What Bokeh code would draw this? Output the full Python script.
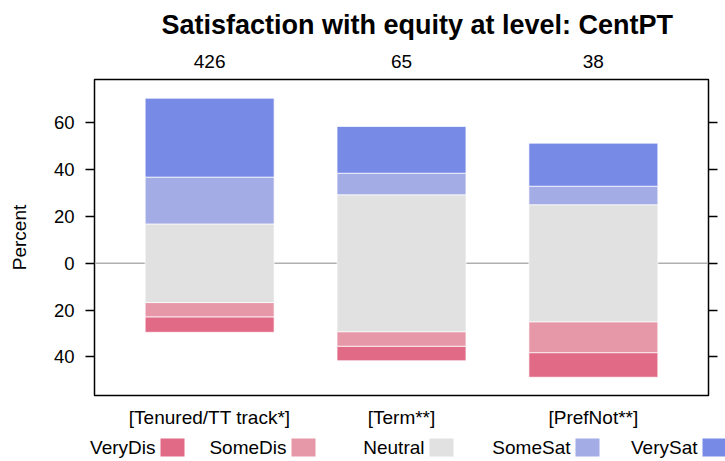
from bokeh.plotting import figure
from bokeh.models import Range1d, LinearAxis, FixedTicker, Span, ColumnDataSource
from bokeh.core.properties import value
from bokeh.embed import file_html
from bokeh.resources import INLINE

# ---- data ----
categories = ["[Tenured/TT track*]", "[Term**]", "[PrefNot**]"]
counts = [426, 65, 38]
levels = ["VeryDis", "SomeDis", "Neutral", "SomeSat", "VerySat"]
very_dis = [6.6, 6.2, 10.5]
some_dis = [6.1, 6.2, 13.2]
neutral = [33.6, 58.5, 50.0]
some_sat = [20.0, 9.2, 7.9]
very_sat = [33.7, 20.0, 18.4]
y_ticks = [-40, -20, 0, 20, 40, 60]
title_text = "Satisfaction with equity at level: CentPT"

# ---- style ----
colors = ["#E16A86", "#E698A8", "#E1E1E1", "#A3ACE4", "#778BE6"]
FONT = "Liberation Sans"

series = [very_dis, some_dis, neutral, some_sat, very_sat]
xpos = [i + 1 for i in range(len(categories))]

p = figure(frame_width=614, frame_height=316,
           x_range=Range1d(0.4, 3.6), y_range=Range1d(-56.5, 78.5),
           output_backend="svg", toolbar_location=None,
           min_border_left=94, min_border_right=17,
           min_border_top=79, min_border_bottom=32)
p.xgrid.visible = False
p.ygrid.visible = False
p.outline_line_color = "black"
p.outline_line_width = 1.5
p.background_fill_color = "white"
p.border_fill_color = "white"

# zero reference line
p.add_layout(Span(location=0, dimension="width", line_color="#B0B0B0",
                  line_width=1.5, level="underlay"))

# stacked diverging bars
for li, (lev, vals, col) in enumerate(zip(levels, series, colors)):
    bottoms, tops = [], []
    for i in range(len(categories)):
        start = -neutral[i] / 2 - some_dis[i] - very_dis[i]
        b = start + sum(series[k][i] for k in range(li))
        bottoms.append(b)
        tops.append(b + vals[i])
    src = ColumnDataSource(dict(x=xpos, bottom=bottoms, top=tops))
    p.vbar(x="x", bottom="bottom", top="top", width=0.672, source=src,
           fill_color=col, line_color="white", line_alpha=0.7, line_width=1)

# left axis
ya = p.yaxis[0]
ya.ticker = FixedTicker(ticks=y_ticks)
ya.major_label_overrides = {t: str(abs(t)) for t in y_ticks}
ya.axis_line_color = None
ya.major_tick_out = 9
ya.major_tick_in = 0
ya.major_tick_line_width = 1.5
ya.minor_tick_line_color = None
ya.major_label_standoff = 11
ya.major_label_text_font = FONT
ya.major_label_text_font_size = "18.5px"
ya.major_label_text_color = "black"
ya.axis_label = "Percent"
ya.axis_label_text_font = FONT
ya.axis_label_text_font_size = "19px"
ya.axis_label_text_font_style = "normal"
ya.axis_label_text_color = "black"
ya.axis_label_standoff = 21

# right axis (ticks only)
ra = LinearAxis(ticker=FixedTicker(ticks=y_ticks),
                major_label_overrides={t: "" for t in y_ticks})
ra.axis_line_color = None
ra.major_tick_out = 9
ra.major_tick_in = 0
ra.major_tick_line_width = 1.5
ra.minor_tick_line_color = None
ra.major_label_standoff = 0
ra.major_label_text_font_size = "1px"
p.add_layout(ra, "right")

# bottom axis: category names
xa = p.xaxis[0]
xa.ticker = FixedTicker(ticks=xpos)
xa.major_label_overrides = {x: c for x, c in zip(xpos, categories)}
xa.axis_line_color = None
xa.major_tick_line_color = None
xa.minor_tick_line_color = None
xa.major_label_standoff = 5
xa.major_label_text_font = FONT
xa.major_label_text_font_size = "19px"
xa.major_label_text_color = "black"

# top axis: counts
ta = LinearAxis(ticker=FixedTicker(ticks=xpos),
                major_label_overrides={x: str(n) for x, n in zip(xpos, counts)})
ta.axis_line_color = None
ta.major_tick_line_color = None
ta.minor_tick_line_color = None
ta.major_label_standoff = 6
ta.major_label_text_font = FONT
ta.major_label_text_font_size = "19px"
ta.major_label_text_color = "black"
p.add_layout(ta, "above")

p.title.text = title_text
p.title.text_font = FONT
p.title.text_font_size = "27px"
p.title.text_font_style = "bold"
p.title.text_color = "black"
p.title.align = "left"
p.title.vertical_align = "top"
p.title.offset = 67
p.title.padding = 0
p.title.standoff = 19

# legend row (label then swatch), separate root so its frame spans the page width
legend_text_end = [155, 286, 424, 570, 697]
sw_w, sw_h = 24, 18
leg = figure(width=725, height=34, x_range=Range1d(0, 725), y_range=Range1d(0, 34),
             output_backend="svg", toolbar_location=None, min_border=0)
leg.axis.visible = False
leg.xgrid.visible = False
leg.ygrid.visible = False
leg.outline_line_color = None
ysw = [17] * len(levels)
leg.text(x=legend_text_end, y=ysw, text=levels, text_align="right",
         text_baseline="middle", text_font=value(FONT), text_font_size="19px",
         text_color="black")
leg.rect(x=[e + 5 + sw_w / 2 for e in legend_text_end], y=ysw, width=sw_w, height=sw_h,
         fill_color=colors, line_color=None)

open("out.html", "w").write(file_html([p, leg], INLINE))
